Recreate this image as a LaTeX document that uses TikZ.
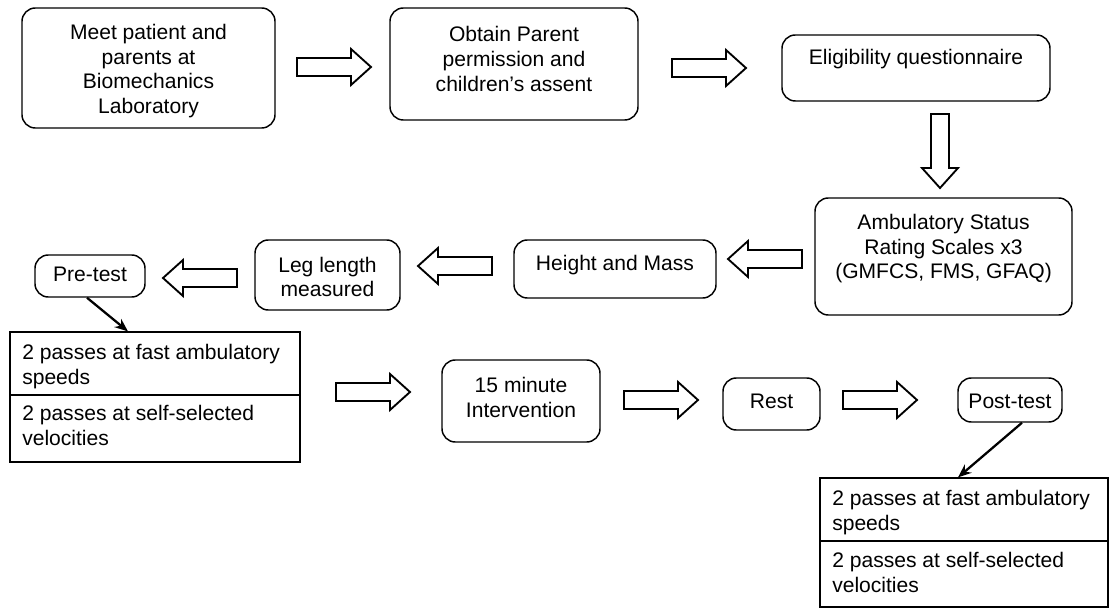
\documentclass[tikz,border=0pt]{standalone}
\usepackage{fontspec}
\setmainfont{Liberation Sans}
\usetikzlibrary{arrows.meta,calc}
\begin{document}
\begin{tikzpicture}[x=0.75pt,y=-0.75pt,
  every node/.style={font=\fontsize{15.8}{18.4}\selectfont},
  sz/.style 2 args={minimum width=#1*0.75pt, minimum height=#2*0.75pt},
  rbox/.style={draw, line width=1.1pt, rounded corners=10pt, inner sep=0pt},
  cell/.style={draw, line width=0.9pt, inner sep=0pt},
  txt/.style={align=center, inner sep=0pt},
  ltxt/.style={align=left, inner sep=0pt, anchor=north west},
  conn/.style={line width=1.7pt, -{Stealth[length=10pt,width=8pt]}},
  blk/.style={draw, line width=1.4pt, fill=white, line join=miter},
  rarr/.pic={\draw[blk] (-37,-9) -- (17,-9) -- (17,-18) -- (37,0) -- (17,18) -- (17,9) -- (-37,9) -- cycle;}
]
\useasboundingbox (0,0) rectangle (1110,609);

% boxes
\node[rbox,sz={253}{120}] (meet) at (148.5,68) {};
\node[txt] (meett) at (148.5,71) {Meet patient and\\parents at\\Biomechanics\\Laboratory};
\node[rbox,sz={248}{112}] (obt) at (514,64) {};
\node[txt] (obtt) at (514,59) {Obtain Parent\\permission and\\children’s assent};
\node[rbox,sz={268}{66}] (eli) at (916,68) {};
\node[txt] (elit) at (916,59) {Eligibility questionnaire};
\node[rbox,sz={257}{117}] (amb) at (943.5,256.5) {};
\node[txt] (ambt) at (943.5,249) {Ambulatory Status\\Rating Scales x3\\(GMFCS, FMS, GFAQ)};
\node[rbox,sz={202}{58}] (hm) at (615,269) {};
\node[txt] (hmt) at (615,265) {Height and Mass};
\node[rbox,sz={145}{70}] (leg) at (327.5,275) {};
\node[txt] (legt) at (327.5,277) {Leg length\\measured};
\node[rbox,sz={110}{42}] (pre) at (90,276) {};
\node[txt] (pret) at (90,274.5) {Pre-test};
\node[rbox,sz={158}{82}] (int) at (521,401) {};
\node[txt] (intt) at (521,397.5) {15 minute\\Intervention};
\node[rbox,sz={97}{52}] (rest) at (771.5,404) {};
\node[txt] (restt) at (771.5,401.5) {Rest};
\node[rbox,sz={104}{44}] (post) at (1010,400) {};
\node[txt] (postt) at (1010,401.5) {Post-test};

% tables
\node[cell,sz={290}{63}] (pre1) at (155,363.5) {};
\node[cell,sz={290}{67}] (pre2) at (155,428.5) {};
\node[ltxt] (pre1t) at (22,344) {2 passes at fast ambulatory\\speeds};
\node[ltxt] (pre2t) at (22,405) {2 passes at self-selected\\velocities};
\node[cell,sz={288}{63}] (post1) at (964,509.5) {};
\node[cell,sz={288}{66}] (post2) at (964,574) {};
\node[ltxt] (post1t) at (832,490) {2 passes at fast ambulatory\\speeds};
\node[ltxt] (post2t) at (832,552) {2 passes at self-selected\\velocities};

% block arrows
\pic at (334,67) {rarr};
\pic at (709,68) {rarr};
\pic[rotate=-90] at (940,151) {rarr};
\pic[rotate=180] at (765,259) {rarr};
\pic[rotate=180] at (455,266) {rarr};
\pic[rotate=180] at (200,278) {rarr};
\pic at (373,392) {rarr};
\pic at (661,400) {rarr};
\pic at (880,400) {rarr};

% connectors
\draw[conn] ($(pre.south)+(-3,0)$) -- ($(pre1.north)+(-27,0)$);
\draw[conn] ($(post.south)+(12,0)$) -- ($(post1.north)+(-6,0)$);
\end{tikzpicture}
\end{document}
